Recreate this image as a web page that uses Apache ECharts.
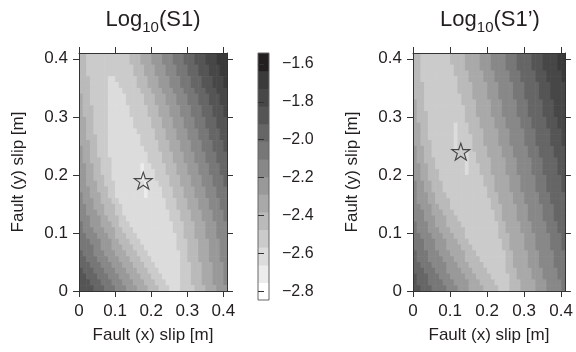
<!DOCTYPE html>
<html>
<head>
<meta charset="utf-8">
<script src="https://cdn.jsdelivr.net/npm/echarts@6/dist/echarts.min.js"></script>
<style>
  html, body { margin: 0; padding: 0; background: #fff; }
  #chart { width: 576px; height: 352px; }
</style>
</head>
<body>
<div id="chart"></div>
<script>
const slipTicks = [0, 0.1, 0.2, 0.3, 0.4];
const cellSize = 0.01;
// grey levels, lightest (0) to darkest (13)
const grayLevels = ['#ffffff', '#ececec', '#dcdcdc', '#cbcbcb', '#bababa', '#a9a9a9', '#999999',
  '#888888', '#777777', '#666666', '#555555', '#474747', '#3a3a3a', '#231f20'];
const cbEdges = [-2.847, -2.754, -2.661, -2.567, -2.474, -2.381, -2.288, -2.195,
  -2.102, -2.008, -1.915, -1.822, -1.729, -1.635, -1.542];
const cbTicks = [-2.8, -2.6, -2.4, -2.2, -2.0, -1.8, -1.6];
const starS1 = [0.178, 0.19];
const starS1p = [0.129, 0.24];

// rows from top (y = 0.40) to bottom (y = 0); tokens = grey level (hex) + run length
const s1Rows = [
  '42 312 43 53 63 73 83 93 a3 b3 c3',
  '42 312 43 53 63 73 83 93 a3 b3 c3',
  '42 313 43 53 63 73 83 93 a3 b3 c2',
  '42 313 43 53 63 73 83 93 a3 b3 c2',
  '43 35 22 36 43 53 63 73 83 93 a3 b3 c1',
  '43 35 23 35 43 53 63 73 83 93 a3 b3 c1',
  '43 35 24 35 43 53 63 73 83 93 a3 b3',
  '51 42 35 25 35 43 53 63 73 83 93 a3 b2',
  '51 42 35 25 35 43 53 63 73 83 93 a3 b2',
  '51 43 34 26 35 43 53 63 73 83 93 a3 b1',
  '51 43 34 26 35 43 53 63 73 83 93 a3 b1',
  '52 42 34 27 35 43 53 63 73 83 93 a3',
  '52 42 34 27 35 43 53 63 73 83 93 a3',
  '52 42 34 28 35 43 53 63 73 83 93 a2',
  '52 43 33 29 34 43 53 63 73 83 93 a2',
  '53 42 33 29 35 43 53 63 73 83 93 a1',
  '61 52 42 33 210 34 43 53 63 73 83 93 a1',
  '61 52 42 33 211 34 43 53 63 73 83 93',
  '61 52 43 33 210 34 43 53 63 73 83 93',
  '62 52 42 33 28 11 22 34 43 53 63 73 83 92',
  '62 52 42 33 28 11 23 33 43 53 63 73 83 92',
  '62 52 43 32 28 11 23 34 43 53 63 73 83 91',
  '62 53 42 33 28 11 23 33 43 53 63 73 83 91',
  '63 52 43 32 28 11 24 33 43 53 63 73 83',
  '71 62 53 42 32 28 11 24 33 43 53 63 73 83',
  '71 63 52 43 32 213 33 43 53 63 73 82',
  '72 62 53 43 32 212 33 43 53 63 73 82',
  '72 63 52 43 32 213 33 43 53 63 73 81',
  '73 63 52 43 32 212 33 43 53 63 73 81',
  '81 72 63 53 42 33 212 33 43 53 63 73',
  '81 73 63 53 42 33 211 33 43 53 63 73',
  '82 73 63 52 43 33 211 32 43 53 63 73',
  '83 73 63 52 43 33 210 33 43 53 63 72',
  '84 72 63 53 43 33 29 33 43 53 63 72',
  '91 83 73 63 53 43 33 29 32 43 53 63 72',
  '92 83 73 63 53 43 33 28 32 43 53 63 72',
  '93 83 73 63 53 43 33 27 33 43 53 63 71',
  'a1 93 83 73 63 53 43 33 26 33 43 53 63 71',
  'a2 93 83 73 63 53 43 33 25 33 43 53 63 71',
  'a3 93 83 73 63 53 43 33 24 33 43 53 63 71',
  'a4 93 83 73 63 53 43 33 23 34 43 53 63'
];

const s1pRows = [
  '42 38 44 54 63 74 83 94 a3 b4 c2',
  '42 38 44 54 63 74 83 94 a3 b4 c2',
  '42 39 43 54 63 74 83 94 a3 b4 c2',
  '42 39 44 54 63 74 83 94 a3 b4 c1',
  '42 310 43 54 63 74 83 94 a3 b4 c1',
  '43 39 44 54 63 74 83 94 a3 b4',
  '43 39 44 54 63 74 83 94 a3 b4',
  '43 310 43 54 63 74 83 94 a3 b4',
  '51 42 310 44 54 63 74 83 94 a3 b3',
  '51 42 311 43 54 63 74 83 94 a3 b3',
  '51 43 310 43 54 63 74 83 94 a3 b3',
  '51 43 310 44 54 63 74 83 94 a3 b2',
  '52 42 37 21 33 43 54 63 74 83 94 a3 b2',
  '52 42 37 21 33 44 54 63 74 83 94 a3 b1',
  '52 42 37 21 34 43 54 63 74 83 94 a3 b1',
  '52 43 36 21 34 43 54 63 74 83 94 a3 b1',
  '61 52 42 36 21 34 44 54 63 74 83 94 a3',
  '61 52 42 39 21 32 43 54 63 74 83 94 a3',
  '61 52 43 38 21 32 44 54 63 74 83 94 a2',
  '62 52 42 38 21 33 43 54 63 74 83 94 a2',
  '62 52 43 37 21 33 43 54 63 74 83 94 a2',
  '62 52 43 312 43 54 63 74 83 94 a1',
  '71 62 52 43 311 43 54 63 74 83 94 a1',
  '71 62 52 43 312 42 54 63 74 83 94 a1',
  '71 63 52 43 311 43 54 63 74 83 94',
  '71 63 52 44 311 42 54 63 74 83 94',
  '72 63 52 43 311 43 54 63 74 83 93',
  '73 62 53 43 311 42 54 63 74 83 93',
  '73 63 53 43 310 42 54 63 74 83 93',
  '81 73 62 53 44 310 42 54 63 74 83 92',
  '81 73 63 53 44 39 42 54 63 74 83 92',
  '82 73 63 53 43 39 43 54 63 74 83 91',
  '83 73 63 53 43 39 42 54 63 74 83 91',
  '83 73 63 54 43 38 42 54 63 74 83 91',
  '91 83 73 63 54 43 38 42 54 63 74 83',
  '91 83 74 63 53 44 37 42 54 63 74 83',
  '92 83 74 63 53 44 36 42 54 63 74 83',
  '93 83 73 64 53 44 35 43 54 63 74 82',
  'a1 93 83 73 64 53 44 35 42 54 63 74 82',
  'a1 93 84 73 64 53 44 34 43 54 63 74 81',
  'a2 93 84 73 63 54 44 33 43 54 63 74 81'
];

const FONT = '"Liberation Sans", Arial, sans-serif';
const INK = '#231f20';
const FRAME = '#333';

function decodeRows(rows) {
  const out = [];
  rows.forEach((row, r) => {
    const j = rows.length - 1 - r;
    let i = 0;
    row.split(' ').forEach(tok => {
      const level = parseInt(tok[0], 16);
      const n = parseInt(tok.slice(1), 10);
      for (let k = 0; k < n && i < 41; k++) {
        out.push([i * cellSize, j * cellSize, level]);
        i++;
      }
    });
  });
  return out;
}

function renderCell(params, api) {
  const x = api.value(0);
  const y = api.value(1);
  const p0 = api.coord([x, y + cellSize]);
  const p1 = api.coord([x + cellSize, y]);
  return {
    type: 'rect',
    shape: { x: p0[0], y: p0[1], width: p1[0] - p0[0] + 0.6, height: p1[1] - p0[1] + 0.6 },
    style: { fill: grayLevels[api.value(2)] }
  };
}

function renderBand(params, api) {
  const p0 = api.coord([0, api.value(1)]);
  const p1 = api.coord([1, api.value(0)]);
  return {
    type: 'rect',
    shape: { x: p0[0], y: p0[1], width: p1[0] - p0[0], height: p1[1] - p0[1] + 0.6 },
    style: { fill: grayLevels[api.value(2)] }
  };
}

const labelStyle = { color: INK, fontSize: 17, fontFamily: FONT };

function slipAxis(gridIndex, position, name) {
  const main = position === 'bottom' || position === 'left';
  const isX = position === 'bottom' || position === 'top';
  return {
    type: 'value',
    gridIndex: gridIndex,
    position: position,
    min: 0,
    max: 0.41,
    z: 10,
    name: main ? name : '',
    nameLocation: 'middle',
    nameGap: isX ? 36 : 52,
    nameTextStyle: { color: INK, fontSize: 17, fontFamily: FONT },
    axisLine: { show: true, onZero: false, lineStyle: { color: FRAME, width: 1 } },
    axisTick: { show: true, inside: false, length: 6, customValues: slipTicks, lineStyle: { color: FRAME } },
    axisLabel: Object.assign({ show: main, customValues: slipTicks, margin: isX ? 12 : 11 }, labelStyle),
    splitLine: { show: false }
  };
}

const bandData = grayLevels.map((c, k) => [cbEdges[k], cbEdges[k + 1], k]);

const starPath = 'path://M50,2 L61,36 L97,36 L68,57 L79,92 L50,71 L21,92 L32,57 L3,36 L39,36 Z';

const option = {
  animation: false,
  grid: [
    { left: 79, top: 53, width: 148, height: 238 },
    { left: 413, top: 53, width: 155, height: 238 },
    { left: 258, top: 53, width: 11, height: 247, show: true, z: 10,
      backgroundColor: 'transparent', borderColor: '#666', borderWidth: 1 }
  ],
  xAxis: [
    slipAxis(0, 'bottom', 'Fault (x) slip [m]'),
    slipAxis(0, 'top', ''),
    slipAxis(1, 'bottom', 'Fault (x) slip [m]'),
    slipAxis(1, 'top', ''),
    { type: 'value', gridIndex: 2, min: 0, max: 1, show: false }
  ],
  yAxis: [
    slipAxis(0, 'left', 'Fault (y) slip [m]'),
    slipAxis(0, 'right', ''),
    slipAxis(1, 'left', 'Fault (y) slip [m]'),
    slipAxis(1, 'right', ''),
    {
      type: 'value', gridIndex: 2, position: 'right',
      min: cbEdges[0], max: cbEdges[cbEdges.length - 1], z: 10,
      axisLine: { show: false },
      axisTick: { show: true, inside: false, length: 6, customValues: cbTicks, lineStyle: { color: FRAME } },
      axisLabel: Object.assign({
        customValues: cbTicks, margin: 13,
        formatter: v => (v < 0 ? '\u2212' : '') + Math.abs(v).toFixed(1)
      }, labelStyle, { fontSize: 16 }),
      splitLine: { show: false }
    }
  ],
  graphic: [
    { type: 'text', x: 153, y: 20, style: {
      text: '{a|Log}{s|10}{a|(S1)}', align: 'center', verticalAlign: 'middle',
      rich: {
        a: { fontSize: 22, fontFamily: FONT, fill: INK, lineHeight: 30, verticalAlign: 'middle' },
        s: { fontSize: 15, fontFamily: FONT, fill: INK, lineHeight: 16, verticalAlign: 'bottom' }
      } } },
    { type: 'text', x: 490, y: 20, style: {
      text: '{a|Log}{s|10}{a|(S1\u2019)}', align: 'center', verticalAlign: 'middle',
      rich: {
        a: { fontSize: 22, fontFamily: FONT, fill: INK, lineHeight: 30, verticalAlign: 'middle' },
        s: { fontSize: 15, fontFamily: FONT, fill: INK, lineHeight: 16, verticalAlign: 'bottom' }
      } } }
  ],
  series: [
    { type: 'custom', xAxisIndex: 0, yAxisIndex: 0, data: decodeRows(s1Rows),
      renderItem: renderCell, clip: true, z: 1, silent: true },
    { type: 'custom', xAxisIndex: 2, yAxisIndex: 2, data: decodeRows(s1pRows),
      renderItem: renderCell, clip: true, z: 1, silent: true },
    { type: 'custom', xAxisIndex: 4, yAxisIndex: 4, data: bandData,
      renderItem: renderBand, z: 1, silent: true },
    { type: 'scatter', xAxisIndex: 0, yAxisIndex: 0, data: [starS1], symbol: starPath,
      symbolSize: [18, 17], z: 5, silent: true,
      itemStyle: { color: 'rgba(0,0,0,0)', borderColor: INK, borderWidth: 1.1 } },
    { type: 'scatter', xAxisIndex: 2, yAxisIndex: 2, data: [starS1p], symbol: starPath,
      symbolSize: [18, 17], z: 5, silent: true,
      itemStyle: { color: 'rgba(0,0,0,0)', borderColor: INK, borderWidth: 1.1 } }
  ]
};

const myChart = echarts.init(document.getElementById('chart'));
myChart.setOption(option);
</script>
</body>
</html>
